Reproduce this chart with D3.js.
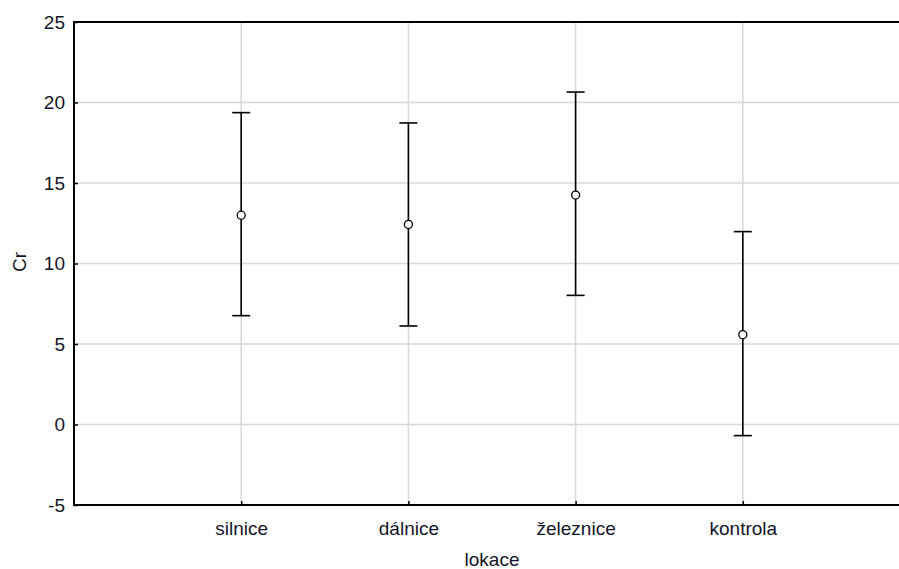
<!DOCTYPE html>
<html>
<head>
<meta charset="utf-8">
<script src="https://cdn.jsdelivr.net/npm/d3@7"></script>
<style>
  html, body { margin: 0; padding: 0; background: #fff; }
  svg { display: block; }
  text { font-family: "Liberation Sans", Arial, sans-serif; fill: #141428; }
</style>
</head>
<body>
<svg id="chart" width="899" height="569"></svg>
<script>
const categories = ["silnice", "dálnice", "železnice", "kontrola"];
const means = [13.0, 12.43, 14.25, 5.58];
const upper = [19.37, 18.73, 20.65, 11.98];
const lower = [6.76, 6.12, 8.02, -0.69];
const yTicks = [-5, 0, 5, 10, 15, 20, 25];
const xLabel = "lokace";
const yLabel = "Cr";

const FS = 19;
const svg = d3.select("#chart");
const pLeft = 74, pTop = 22, pRight = 910, pBottom = 505;

const x = d3.scaleLinear().domain([0, categories.length + 1]).range([pLeft, pRight]);
const y = d3.scaleLinear().domain([-5, 25]).range([pBottom, pTop]);

const data = categories.map((c, i) => ({ c, i: i + 1, m: means[i], hi: upper[i], lo: lower[i] }));

// grid
svg.append("g").selectAll("line").data(yTicks).join("line")
  .attr("x1", pLeft).attr("x2", 899)
  .attr("y1", d => y(d)).attr("y2", d => y(d))
  .attr("stroke", "#d8d8d8").attr("stroke-width", 1.5);
svg.append("g").selectAll("line").data(data).join("line")
  .attr("x1", d => x(d.i)).attr("x2", d => x(d.i))
  .attr("y1", pTop).attr("y2", pBottom)
  .attr("stroke", "#d8d8d8").attr("stroke-width", 1.5);

// axes
const yAxis = d3.axisLeft(y).tickValues(yTicks).tickSize(-4).tickPadding(9).tickFormat(d => String(d));
const gy = svg.append("g").attr("transform", `translate(${pLeft},0)`).call(yAxis);
gy.select(".domain").remove();
gy.selectAll("line").attr("stroke", "#000").attr("stroke-width", 1.5);
gy.selectAll("text").attr("font-size", FS).style("font-family", "'Liberation Sans', Arial, sans-serif").attr("fill", "#141428");

const xAxis = d3.axisBottom(x).tickValues(data.map(d => d.i)).tickSize(-4).tickPadding(17)
  .tickFormat(d => categories[d - 1]);
const gx = svg.append("g").attr("transform", `translate(0,${pBottom})`).call(xAxis);
gx.select(".domain").remove();
gx.selectAll("line").attr("stroke", "#000").attr("stroke-width", 1.5);
gx.selectAll("text").attr("font-size", FS).style("font-family", "'Liberation Sans', Arial, sans-serif").attr("fill", "#141428");

// frame lines
svg.append("line").attr("x1", pLeft).attr("x2", 899).attr("y1", pTop).attr("y2", pTop).attr("stroke", "#000").attr("stroke-width", 2);
svg.append("line").attr("x1", pLeft).attr("x2", 899).attr("y1", pBottom).attr("y2", pBottom).attr("stroke", "#000").attr("stroke-width", 2);
svg.append("line").attr("x1", pLeft).attr("x2", pLeft).attr("y1", pTop - 1).attr("y2", pBottom + 1).attr("stroke", "#000").attr("stroke-width", 2);

// error bars
const g = svg.append("g");
g.append("g").selectAll("line").data(data).join("line")
  .attr("x1", d => x(d.i)).attr("x2", d => x(d.i))
  .attr("y1", d => y(d.hi)).attr("y2", d => y(d.lo))
  .attr("stroke", "#000").attr("stroke-width", 1.6);
g.append("g").selectAll("line").data(data).join("line")
  .attr("x1", d => x(d.i) - 9).attr("x2", d => x(d.i) + 9)
  .attr("y1", d => y(d.hi)).attr("y2", d => y(d.hi))
  .attr("stroke", "#000").attr("stroke-width", 1.6);
g.append("g").selectAll("line").data(data).join("line")
  .attr("x1", d => x(d.i) - 9).attr("x2", d => x(d.i) + 9)
  .attr("y1", d => y(d.lo)).attr("y2", d => y(d.lo))
  .attr("stroke", "#000").attr("stroke-width", 1.6);
g.append("g").selectAll("circle").data(data).join("circle")
  .attr("cx", d => x(d.i)).attr("cy", d => y(d.m)).attr("r", 4)
  .attr("fill", "#fff").attr("stroke", "#000").attr("stroke-width", 1.3);

// labels
svg.append("text").attr("x", 492).attr("y", 566).attr("text-anchor", "middle")
  .attr("font-size", FS).text(xLabel);
svg.append("text").attr("transform", "translate(26,262) rotate(-90)").attr("text-anchor", "middle")
  .attr("font-size", FS).text(yLabel);
</script>
</body>
</html>
